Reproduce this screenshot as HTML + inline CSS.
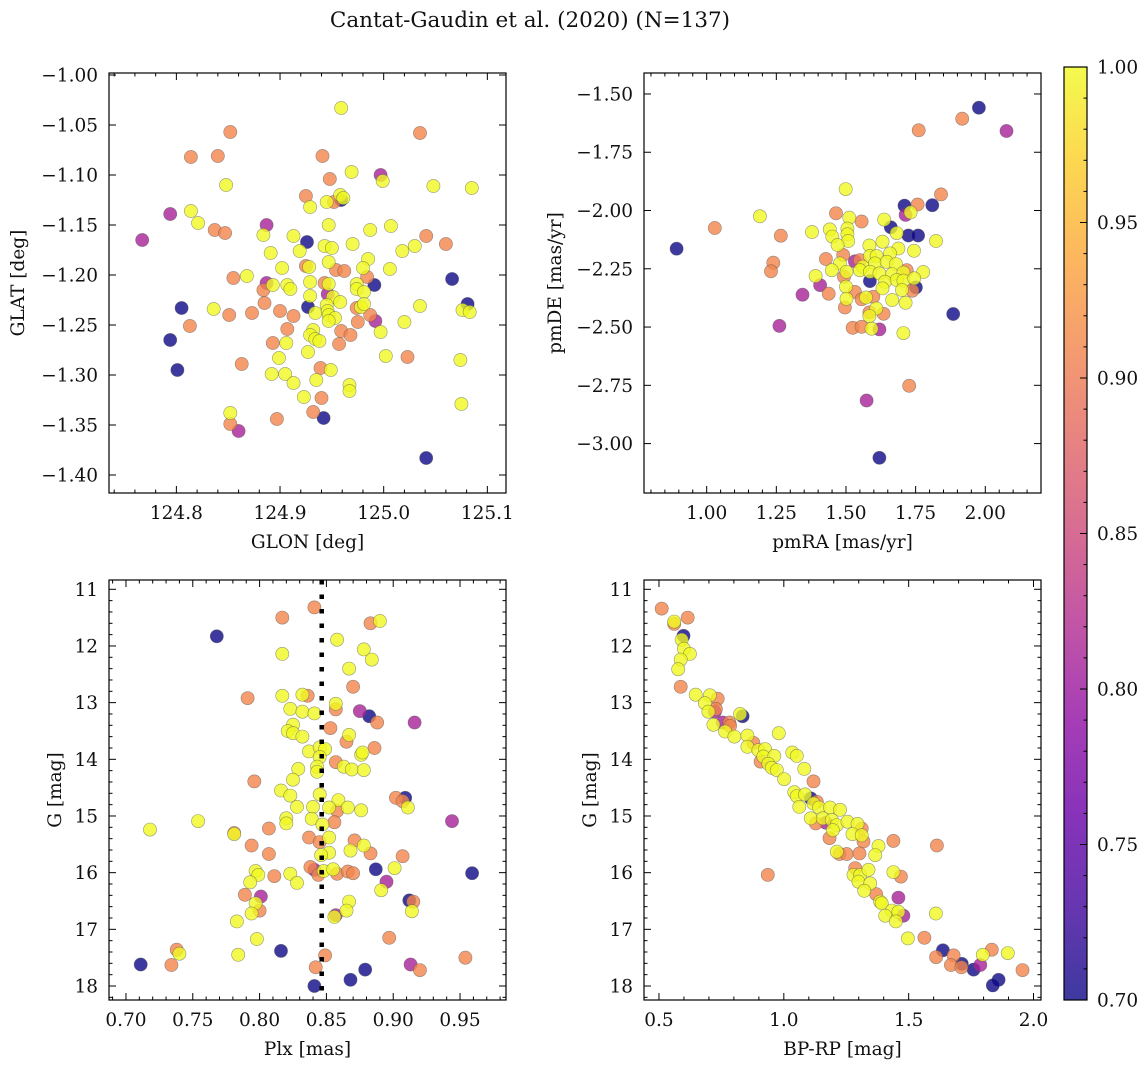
<!DOCTYPE html>
<html><head><meta charset="utf-8"><title>Cantat-Gaudin et al. (2020)</title>
<style>
html,body{margin:0;padding:0;background:#fff;}
svg{display:block;font-family:"DejaVu Serif","Liberation Serif",serif;}
</style></head>
<body>
<svg id="fig" width="1148" height="1067" viewBox="0 0 1148 1067" xmlns="http://www.w3.org/2000/svg">
<rect width="1148" height="1067" fill="#fff"/>
<text x="530" y="27" font-size="21.5" text-anchor="middle" fill="#111">Cantat-Gaudin et al. (2020) (N=137)</text>
</svg>
<script>
// ---- Panel 1: GLON / GLAT ----
var p1X = [124.959,124.852,125.035,124.814,124.840,124.941,124.969,124.997,124.999,124.948,124.848,125.048,125.085,124.925,124.958,124.961,124.959,124.952,124.945,124.929,124.794,124.814,124.821,124.887,124.947,125.007,124.837,124.847,124.884,124.913,124.987,125.041,124.767,124.926,125.060,124.943,124.950,124.970,125.030,125.018,124.891,124.919,124.985,124.947,124.902,124.925,124.928,124.954,124.962,124.980,125.006,124.984,124.855,124.868,125.066,124.991,124.887,124.893,124.907,124.910,124.929,124.943,124.947,124.974,124.974,124.981,124.884,124.929,124.946,124.951,124.958,125.081,125.076,125.083,125.035,124.805,124.836,124.851,124.873,124.885,124.900,124.913,124.927,124.934,124.945,124.946,124.947,124.953,124.947,124.974,124.978,124.981,124.987,124.992,124.975,125.020,124.813,124.794,124.907,124.932,124.929,124.934,124.938,124.959,124.968,124.997,124.893,124.906,124.957,124.927,124.899,125.002,125.023,125.074,124.863,124.801,124.892,124.905,124.913,124.939,124.949,124.935,124.967,124.967,124.923,124.940,125.075,124.852,124.932,124.942,124.897,124.852,124.860,125.041];
var p1Y = [-1.033,-1.057,-1.058,-1.082,-1.081,-1.081,-1.097,-1.100,-1.106,-1.104,-1.110,-1.111,-1.113,-1.121,-1.120,-1.123,-1.125,-1.127,-1.127,-1.132,-1.139,-1.136,-1.148,-1.150,-1.150,-1.151,-1.155,-1.158,-1.160,-1.161,-1.155,-1.161,-1.165,-1.167,-1.169,-1.171,-1.173,-1.169,-1.171,-1.176,-1.178,-1.176,-1.184,-1.187,-1.193,-1.191,-1.192,-1.195,-1.196,-1.193,-1.194,-1.202,-1.203,-1.201,-1.204,-1.210,-1.208,-1.210,-1.210,-1.214,-1.207,-1.208,-1.209,-1.209,-1.214,-1.217,-1.215,-1.221,-1.219,-1.222,-1.227,-1.229,-1.235,-1.237,-1.231,-1.233,-1.234,-1.240,-1.238,-1.228,-1.236,-1.241,-1.232,-1.238,-1.230,-1.236,-1.240,-1.243,-1.246,-1.233,-1.232,-1.229,-1.240,-1.246,-1.247,-1.247,-1.251,-1.265,-1.254,-1.255,-1.260,-1.264,-1.266,-1.256,-1.260,-1.257,-1.268,-1.268,-1.269,-1.277,-1.283,-1.281,-1.282,-1.285,-1.289,-1.295,-1.299,-1.299,-1.308,-1.293,-1.295,-1.305,-1.310,-1.316,-1.322,-1.323,-1.329,-1.338,-1.337,-1.343,-1.344,-1.349,-1.356,-1.383];
var p1P = [1,.91,.91,.91,.91,.91,1,.81,1,.91,1,1,1,.91,1,1,.7,.91,1,1,.81,1,1,.81,1,1,.91,.91,1,1,1,.91,.81,.7,.91,1,1,1,1,1,1,1,1,1,1,.91,1,.91,.91,1,1,.91,.91,1,.7,.7,.81,1,1,1,1,.91,1,1,1,1,.91,1,.81,1,1,.7,1,1,1,.7,1,.91,.91,.91,.91,.91,.7,1,1,1,1,1,1,.91,1,1,.91,.81,.91,1,.91,.7,.91,1,1,1,1,.91,.91,1,.91,1,.91,1,1,1,.91,1,.91,.7,1,1,1,.91,1,1,1,1,1,.91,1,1,.91,.7,.91,.91,.81,.7];
var p1XTicks = [124.8,124.9,125.0,125.1];
var p1YTicks = [-1.00,-1.05,-1.10,-1.15,-1.20,-1.25,-1.30,-1.35,-1.40];

// ---- Panel 2: pmRA / pmDE ----
var p2X = [1.977,1.917,2.076,1.761,1.499,1.841,1.710,1.757,1.810,1.191,1.464,1.512,1.556,1.637,1.732,1.714,1.029,1.661,1.378,1.442,1.505,1.505,1.266,1.451,1.508,1.682,1.724,1.759,1.823,0.892,1.470,1.584,1.631,1.688,1.744,1.490,1.428,1.239,1.231,1.532,1.478,1.550,1.586,1.610,1.658,1.560,1.604,1.646,1.679,1.550,1.586,1.620,1.666,1.706,1.718,1.777,1.449,1.502,1.391,1.493,1.586,1.640,1.682,1.706,1.745,1.751,1.738,1.407,1.500,1.532,1.631,1.701,1.344,1.438,1.502,1.556,1.572,1.598,1.666,1.714,1.496,1.584,1.609,1.635,1.584,1.885,1.261,1.524,1.556,1.620,1.592,1.706,1.727,1.574,1.620];
var p2Y = [-1.559,-1.606,-1.659,-1.656,-1.908,-1.931,-1.979,-1.974,-1.977,-2.025,-2.012,-2.031,-2.047,-2.039,-2.008,-2.019,-2.075,-2.072,-2.092,-2.081,-2.077,-2.102,-2.108,-2.112,-2.131,-2.097,-2.107,-2.107,-2.131,-2.164,-2.148,-2.150,-2.134,-2.163,-2.173,-2.191,-2.208,-2.224,-2.261,-2.218,-2.227,-2.213,-2.195,-2.195,-2.184,-2.241,-2.227,-2.220,-2.230,-2.256,-2.263,-2.270,-2.273,-2.266,-2.256,-2.264,-2.256,-2.263,-2.281,-2.284,-2.303,-2.306,-2.298,-2.301,-2.291,-2.330,-2.344,-2.320,-2.327,-2.349,-2.334,-2.341,-2.361,-2.357,-2.379,-2.381,-2.373,-2.370,-2.384,-2.396,-2.416,-2.437,-2.420,-2.443,-2.453,-2.444,-2.495,-2.503,-2.499,-2.510,-2.507,-2.526,-2.752,-2.815,-3.061];
var p2P = [.7,.91,.81,.91,1,.91,.7,.91,.7,1,.91,1,.91,1,1,.81,.91,.7,1,1,1,1,.91,1,1,1,.7,.7,1,.7,1,1,1,1,1,.91,.91,.91,.91,.81,1,.91,1,1,1,1,1,1,1,1,1,1,1,1,.91,1,1,1,1,.91,.7,1,1,1,1,.7,.91,.81,1,.91,1,1,.81,.91,1,.91,1,.91,1,1,.91,.91,1,.91,1,.7,.81,.91,.91,.81,1,1,.91,.81,.7];
var p2XTicks = [1.00,1.25,1.50,1.75,2.00];
var p2YTicks = [-1.50,-1.75,-2.00,-2.25,-2.50,-2.75,-3.00];

// ---- Panel 3: Plx / G ----
var p3X = [.841,.817,.890,.883,.768,.858,.817,.878,.884,.867,.870,.791,.817,.832,.836,.857,.857,.823,.832,.841,.875,.882,.888,.916,.853,.825,.821,.825,.832,.867,.865,.886,.837,.845,.849,.845,.876,.877,.857,.863,.869,.878,.843,.843,.829,.825,.796,.816,.823,.845,.902,.909,.907,.911,.859,.828,.840,.852,.858,.866,.876,.820,.820,.839,.847,.856,.944,.754,.718,.807,.781,.781,.837,.845,.852,.871,.878,.794,.807,.868,.883,.852,.846,.907,.838,.841,.844,.848,.855,.858,.866,.870,.887,.901,.959,.811,.823,.828,.797,.799,.793,.895,.891,.789,.801,.797,.800,.794,.912,.915,.867,.865,.857,.856,.914,.783,.798,.897,.816,.738,.740,.784,.849,.711,.734,.954,.842,.913,.920,.879,.868,.841];
var p3Y = [11.32,11.50,11.56,11.60,11.83,11.89,12.14,12.06,12.24,12.40,12.72,12.92,12.88,12.86,12.88,13.02,13.12,13.11,13.16,13.19,13.15,13.24,13.35,13.35,13.45,13.39,13.50,13.54,13.60,13.57,13.69,13.80,13.86,13.79,13.82,13.96,13.92,13.88,14.05,14.13,14.18,14.19,14.13,14.22,14.17,14.36,14.39,14.55,14.64,14.62,14.68,14.68,14.74,14.85,14.72,14.84,14.84,14.85,14.91,14.85,14.90,15.04,15.13,15.05,15.15,15.11,15.09,15.09,15.24,15.22,15.30,15.32,15.38,15.46,15.38,15.43,15.52,15.52,15.67,15.61,15.66,15.65,15.69,15.71,15.90,15.95,16.04,15.97,15.94,16.02,15.98,16.01,15.94,15.92,16.01,16.06,16.02,16.18,15.97,16.04,16.17,16.16,16.31,16.39,16.42,16.54,16.67,16.72,16.49,16.51,16.51,16.67,16.75,16.78,16.68,16.86,17.17,17.15,17.38,17.36,17.43,17.45,17.46,17.62,17.63,17.50,17.67,17.62,17.72,17.71,17.89,18.00];
var p3P = [.91,.91,1,.91,.7,1,1,1,1,1,.91,.91,1,1,.91,1,.91,1,1,1,.81,.7,.91,.81,.91,1,1,1,1,1,.91,.91,1,1,1,1,1,1,.91,1,1,1,1,1,1,1,.91,1,1,1,.91,.7,.91,1,1,1,1,1,.91,1,1,1,1,1,1,.91,.81,1,1,.91,.91,1,.91,.91,1,.91,1,.91,.91,1,.91,1,1,.91,.91,.81,.91,1,1,.91,.91,.91,.7,1,.7,.91,1,1,1,1,1,.81,1,.91,.81,1,.91,1,.7,.91,1,1,.81,1,1,1,1,.91,.7,.91,1,1,.91,.7,.91,.91,.91,.81,.91,.7,.7,.7];
var p3XTicks = [0.70,0.75,0.80,0.85,0.90,0.95];
var p3YTicks = [11,12,13,14,15,16,17,18];
var p3Mean = [0.8465];

// ---- Panel 4: BP-RP / G ----
var p4X = [.511,.615,.561,.561,.598,.591,.600,.624,.587,.577,.587,.647,.704,.735,.684,.728,.698,.724,.825,.835,.755,.782,.718,.785,.765,.802,.854,.980,.878,.854,.898,.925,.907,.918,.962,.938,.952,.972,1.034,1.052,1.082,1.001,1.119,1.042,1.052,1.085,1.108,1.132,1.062,1.119,1.141,1.185,1.225,1.108,1.128,1.168,1.156,1.192,1.212,1.255,1.295,1.312,1.196,1.275,1.312,1.319,1.183,1.439,1.379,1.366,1.613,1.223,1.252,1.212,1.303,.936,1.286,1.279,1.306,1.339,1.299,1.346,1.322,1.439,1.469,1.370,1.386,1.392,1.459,1.433,1.459,1.479,1.406,1.449,1.609,1.497,1.563,1.637,1.610,1.680,1.669,1.713,1.711,1.760,1.787,1.797,1.833,1.897,1.956,1.860,1.837];
var p4Y = [11.34,11.50,11.57,11.61,11.82,11.89,12.05,12.14,12.24,12.41,12.72,12.86,12.87,12.93,13.01,13.11,13.16,13.16,13.20,13.24,13.35,13.35,13.39,13.41,13.51,13.60,13.58,13.54,13.71,13.78,13.84,13.82,14.04,13.95,13.94,14.08,14.15,14.19,13.88,13.94,14.17,14.35,14.39,14.58,14.65,14.62,14.69,14.75,14.84,14.78,14.85,14.85,14.89,15.04,15.13,15.12,15.04,15.07,15.16,15.10,15.14,15.22,15.25,15.32,15.34,15.45,15.39,15.44,15.53,15.69,15.52,15.67,15.67,15.63,15.66,16.04,15.92,16.04,16.04,15.95,16.16,16.19,16.32,15.99,16.07,16.38,16.51,16.54,16.44,16.67,16.69,16.76,16.76,16.86,16.72,17.16,17.15,17.37,17.49,17.46,17.63,17.61,17.67,17.71,17.63,17.45,17.36,17.42,17.72,17.89,17.99];
var p4P = [.91,.91,1,.91,.7,1,1,1,1,1,.91,1,1,.91,1,.91,1,.81,1,.7,.81,.91,1,.91,1,1,1,1,.91,1,1,1,.91,1,1,1,1,1,1,1,1,1,.91,1,1,1,.7,.91,1,1,1,1,1,1,.91,.81,1,1,1,1,1,.91,1,1,1,.91,.91,.91,1,1,.91,.91,.91,1,.91,.91,.91,1,1,1,1,1,1,1,.91,.91,1,1,.81,1,1,.81,1,1,1,1,.91,.7,.91,.91,.91,.7,.91,.7,.81,1,.91,1,.91,.7,.7];
var p4XTicks = [0.5,1.0,1.5,2.0];
var p4YTicks = [11,12,13,14,15,16,17,18];

// ---- Colorbar ----
var cbTicks = [0.70,0.75,0.80,0.85,0.90,0.95,1.00];
var cbRange = [0.70,1.00];

var NS = "http://www.w3.org/2000/svg";
var svg = document.getElementById('fig');
var FS = 18.5;
var plasmaStops = ["#0d0887","#41049d","#6a00a8","#8f0da4","#b12a90","#cc4778","#e16462","#f2844b","#fca636","#fcce25","#f0f921"];
function hex(c){return [parseInt(c.substr(1,2),16),parseInt(c.substr(3,2),16),parseInt(c.substr(5,2),16)];}
function plasma(t){
  t=Math.max(0,Math.min(1,t));
  var f=t*10, i=Math.min(9,Math.floor(f)), r=f-i;
  var a=hex(plasmaStops[i]), b=hex(plasmaStops[i+1]);
  return 'rgb('+[0,1,2].map(function(k){return Math.round(a[k]+(b[k]-a[k])*r);}).join(',')+')';
}
function mk(tag, attrs, parent){
  var e=document.createElementNS(NS,tag);
  for(var k in attrs) e.setAttribute(k,attrs[k]);
  (parent||svg).appendChild(e); return e;
}
function fmt(v,d){var s=Math.abs(v).toFixed(d); return (v<0?'\u2212':'')+s;}

function panel(cfg){
  var g=mk('g',{});
  
  
  var b=cfg.box;
  function sx(v){return b.x0+(v-cfg.xd[0])/(cfg.xd[1]-cfg.xd[0])*(b.x1-b.x0);}
  function sy(v){
    var t=(v-cfg.yd[0])/(cfg.yd[1]-cfg.yd[0]);
    return cfg.inv ? b.y0+t*(b.y1-b.y0) : b.y1-t*(b.y1-b.y0);
  }
  var clipId='clip-'+cfg.name;
  var cp=mk('clipPath',{id:clipId},g);
  mk('rect',{x:b.x0,y:b.y0,width:b.x1-b.x0,height:b.y1-b.y0},cp);
  var pts=mk('g',{'clip-path':'url(#'+clipId+')'},g);
  
  
  var idx=cfg.xs.map(function(_,i){return i;});
  idx.sort(function(a,c){return (cfg.cs[a]-cfg.cs[c])||(a-c);});
  idx.forEach(function(i){
    var c=mk('circle',{cx:sx(cfg.xs[i]).toFixed(1),cy:sy(cfg.ys[i]).toFixed(1),r:6.6,
      fill:plasma((cfg.cs[i]-cbRange[0])/(cbRange[1]-cbRange[0])),'fill-opacity':0.8,
      stroke:'#555','stroke-opacity':0.6,'stroke-width':0.6},pts);
    
    
  });
  if(cfg.vline){
    cfg.vline.forEach(function(v){
      var l=mk('line',{x1:sx(v),x2:sx(v),y1:b.y0,y2:b.y1,stroke:'#000','stroke-width':4.5,'stroke-dasharray':'4.5 10'},g);
      
      
    });
  }
  var fr=mk('rect',{x:b.x0,y:b.y0,width:b.x1-b.x0,height:b.y1-b.y0,fill:'none',stroke:'#000','stroke-width':1.2},g);
  
  
  var tg=mk('g',{stroke:'#000','stroke-width':1},g);
  var xstep=cfg.xt[1]-cfg.xt[0], ystep=cfg.yt[1]-cfg.yt[0];
  function minors(ticks,step,dom,cb){
    var m=step/5, start=ticks[0]-step*3;
    for(var k=0;k<400;k++){var v=start+k*m; if(v>Math.max(dom[0],dom[1])+1e-9) break;
      if(v<Math.min(dom[0],dom[1])-1e-9) continue;
      if(Math.abs(Math.round((v-ticks[0])/step)*step-(v-ticks[0]))<m*0.1) continue; cb(v);}
  }
  minors(cfg.xt,xstep,cfg.xd,function(v){var x=sx(v);
    mk('line',{x1:x,x2:x,y1:b.y1,y2:b.y1-3.5},tg); mk('line',{x1:x,x2:x,y1:b.y0,y2:b.y0+3.5},tg);});
  minors(cfg.yt,ystep,cfg.yd,function(v){var y=sy(v);
    mk('line',{x1:b.x0,x2:b.x0+3.5,y1:y,y2:y},tg); mk('line',{x1:b.x1,x2:b.x1-3.5,y1:y,y2:y},tg);});
  cfg.xt.forEach(function(v){var x=sx(v);
    mk('line',{x1:x,x2:x,y1:b.y1,y2:b.y1-7},tg); mk('line',{x1:x,x2:x,y1:b.y0,y2:b.y0+7},tg);
    var t=mk('text',{x:x,y:b.y1+26,'font-size':FS,'text-anchor':'middle',fill:'#111'},g);
    t.textContent=fmt(v,cfg.xdec);
    
    
  });
  cfg.yt.forEach(function(v){var y=sy(v);
    mk('line',{x1:b.x0,x2:b.x0+7,y1:y,y2:y},tg); mk('line',{x1:b.x1,x2:b.x1-7,y1:y,y2:y},tg);
    var t=mk('text',{x:b.x0-11,y:y+6.5,'font-size':FS,'text-anchor':'end',fill:'#111'},g);
    t.textContent=fmt(v,cfg.ydec);
    
    
  });
  var xl=mk('text',{x:(b.x0+b.x1)/2,y:b.y1+55,'font-size':FS,'text-anchor':'middle',fill:'#111'},g);
  xl.textContent=cfg.xlabel;
  
  
  var yc=(b.y0+b.y1)/2;
  var yl=mk('text',{x:cfg.ylx,y:yc,'font-size':FS,'text-anchor':'middle',fill:'#111',transform:'rotate(-90 '+cfg.ylx+' '+yc+')'},g);
  yl.textContent=cfg.ylabel;
  
  
}

panel({name:'glon-glat-panel',box:{x0:109,x1:506,y0:73,y1:493},xd:[124.735,125.118],yd:[-1.418,-0.998],
  xs:p1X,ys:p1Y,cs:p1P,xt:p1XTicks,yt:p1YTicks,xdec:1,ydec:2,xlabel:'GLON [deg]',ylabel:'GLAT [deg]',ylx:24});
panel({name:'pm-panel',box:{x0:644,x1:1041,y0:73,y1:493},xd:[0.775,2.200],yd:[-3.212,-1.410],
  xs:p2X,ys:p2Y,cs:p2P,xt:p2XTicks,yt:p2YTicks,xdec:2,ydec:2,xlabel:'pmRA [mas/yr]',ylabel:'pmDE [mas/yr]',ylx:561});
panel({name:'plx-g-panel',box:{x0:109,x1:506,y0:580,y1:1000},xd:[0.6873,0.9844],yd:[10.836,18.247],inv:true,
  xs:p3X,ys:p3Y,cs:p3P,xt:p3XTicks,yt:p3YTicks,xdec:2,ydec:0,xlabel:'Plx [mas]',ylabel:'G [mag]',ylx:61,vline:p3Mean});
panel({name:'cmd-panel',box:{x0:644,x1:1041,y0:580,y1:1000},xd:[0.44,2.03],yd:[10.836,18.247],inv:true,
  xs:p4X,ys:p4Y,cs:p4P,xt:p4XTicks,yt:p4YTicks,xdec:1,ydec:0,xlabel:'BP-RP [mag]',ylabel:'G [mag]',ylx:596});

(function(){
  var x0=1064,x1=1087,y0=67,y1=1000;
  var defs=mk('defs',{});
  var lg=mk('linearGradient',{id:'plasmaGrad',x1:0,y1:1,x2:0,y2:0},defs);
  plasmaStops.forEach(function(c,i){mk('stop',{offset:(i/10),'stop-color':c,'stop-opacity':0.8},lg);});
  var g=mk('g',{});
  
  
  mk('rect',{x:x0,y:y0,width:x1-x0,height:y1-y0,fill:'url(#plasmaGrad)',stroke:'#000','stroke-width':1.2},g);
  function cy(v){return y1-(v-cbRange[0])/(cbRange[1]-cbRange[0])*(y1-y0);}
  for(var v=cbRange[0];v<=cbRange[1]+1e-9;v+=0.01){
    var isMaj=cbTicks.some(function(t){return Math.abs(t-v)<1e-6;});
    mk('line',{x1:x1,x2:x1-(isMaj?7:3.5),y1:cy(v),y2:cy(v),stroke:'#000','stroke-width':1},g);
  }
  cbTicks.forEach(function(v){
    var t=mk('text',{x:x1+10,y:cy(v)+6.5,'font-size':FS,fill:'#111'},g);
    t.textContent=v.toFixed(2);
    
    
  });
})();
</script>
</body></html>
